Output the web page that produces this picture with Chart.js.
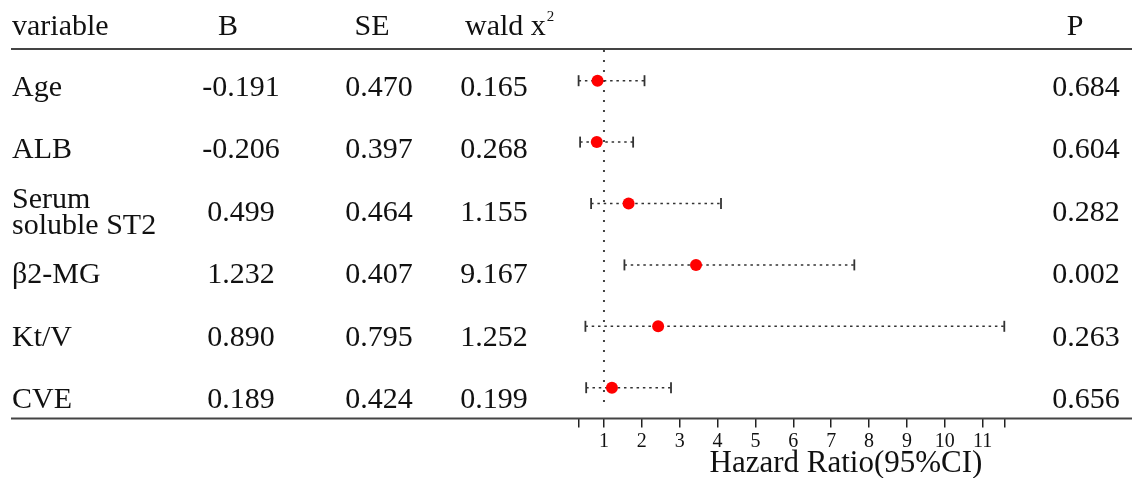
<!DOCTYPE html>
<html><head><meta charset="utf-8">
<script src="https://cdn.jsdelivr.net/npm/chart.js@4/dist/chart.umd.min.js"></script>
<style>html,body{margin:0;padding:0;background:#fff}#wrap{width:1132px;height:478px;position:relative}</style>
</head><body><div id="wrap"><canvas id="c" width="1132" height="478"></canvas></div>
<script>
const variables = ['Age', 'ALB', 'Serum\nsoluble ST2', 'β2-MG', 'Kt/V', 'CVE'];
const colB = ['-0.191', '-0.206', '0.499', '1.232', '0.890', '0.189'];
const colSE = ['0.470', '0.397', '0.464', '0.407', '0.795', '0.424'];
const colWald = ['0.165', '0.268', '1.155', '9.167', '1.252', '0.199'];
const colP = ['0.684', '0.604', '0.282', '0.002', '0.263', '0.656'];
const headers = ['variable', 'B', 'SE', 'wald x', 'P'];
const headerSup = '2';
const hr = [0.83, 0.81, 1.65, 3.43, 2.43, 1.21];
const lower = [0.33, 0.37, 0.66, 1.54, 0.51, 0.53];
const upper = [2.07, 1.77, 4.09, 7.61, 11.57, 2.77];
const xTickLabels = [1, 2, 3, 4, 5, 6, 7, 8, 9, 10, 11];
const xMin = 0.33, xMax = 11.57;
const refValue = 1;
const axisTitle = 'Hazard Ratio(95%CI)';

const SERIF = "'Liberation Serif', 'Times New Roman', serif";
const INK = '#111';

const datasets = [];
datasets.push({
  data: hr.map((v, i) => ({x: v, y: i})),
  showLine: false, pointRadius: 6, pointHoverRadius: 6,
  pointBackgroundColor: '#ff0000', pointBorderWidth: 0, order: 0, clip: false
});
variables.forEach((_, i) => {
  datasets.push({
    data: [{x: lower[i], y: i}, {x: upper[i], y: i}],
    showLine: true, borderColor: '#333', borderWidth: 1.5, borderDash: [2.5, 3.8],
    pointStyle: 'line', pointRotation: 90, pointRadius: 5.5, pointHoverRadius: 5.5,
    pointBorderColor: '#333', pointBorderWidth: 1.8, order: 1, clip: false
  });
});
datasets.push({
  data: [{x: refValue, y: -0.5}, {x: refValue, y: 5.35}],
  showLine: true, borderColor: '#444', borderWidth: 2, borderDash: [2, 8],
  pointRadius: 0, order: 2, clip: false
});

const tablePlugin = {
  id: 'table',
  afterDraw(chart) {
    const ctx = chart.ctx;
    const ys = chart.scales.y;
    const area = chart.chartArea;
    ctx.save();
    ctx.strokeStyle = '#444';
    ctx.lineWidth = 2;
    ctx.beginPath();
    ctx.moveTo(11, area.top - 1); ctx.lineTo(1132, area.top - 1);
    ctx.moveTo(11, area.bottom); ctx.lineTo(1132, area.bottom);
    ctx.stroke();

    ctx.fillStyle = INK;
    ctx.textBaseline = 'middle';
    ctx.font = '30px ' + SERIF;
    const headY = 27;
    ctx.textAlign = 'left'; ctx.fillText(headers[0], 12, headY);
    ctx.textAlign = 'center'; ctx.fillText(headers[1], 228, headY);
    ctx.fillText(headers[2], 372, headY);
    ctx.textAlign = 'left'; ctx.fillText(headers[3], 465, headY);
    const wx = 465 + ctx.measureText(headers[3]).width + 1;
    ctx.font = '15px ' + SERIF;
    ctx.fillText(headerSup, wx, headY - 10);
    ctx.font = '30px ' + SERIF;
    ctx.textAlign = 'center'; ctx.fillText(headers[4], 1075, headY);

    variables.forEach((v, i) => {
      const y = ys.getPixelForValue(i) + 7.5 + i;
      ctx.textAlign = 'left';
      const lines = v.split('\n');
      if (lines.length === 2) {
        ctx.fillText(lines[0], 12, y - 13);
        ctx.fillText(lines[1], 12, y + 13);
      } else ctx.fillText(v, 12, y);
      ctx.textAlign = 'center';
      ctx.fillText(colB[i], 241, y);
      ctx.fillText(colSE[i], 379, y);
      ctx.fillText(colWald[i], 494, y);
      ctx.fillText(colP[i], 1086, y);
    });

    ctx.font = '31px ' + SERIF;
    ctx.textAlign = 'center';
    ctx.fillText(axisTitle, 846, 464);
    ctx.restore();
  }
};

new Chart(document.getElementById('c'), {
  type: 'scatter',
  data: {datasets},
  options: {
    responsive: false, animation: false, events: [],
    layout: {padding: {left: 578.6, right: 127.7, top: 50, bottom: 0}},
    plugins: {legend: {display: false}, tooltip: {enabled: false}},
    scales: {
      x: {
        type: 'linear', min: xMin, max: xMax,
        afterBuildTicks: s => { s.ticks = [xMin, ...xTickLabels, xMax].map(v => ({value: v})); },
        afterFit: s => { s.height = 478 - 418.4; },
        ticks: {
          callback: v => xTickLabels.includes(v) ? String(v) : '',
          font: {family: SERIF, size: 20}, color: INK, padding: 2,
          maxRotation: 0, autoSkip: false
        },
        grid: {drawOnChartArea: false, drawTicks: true, tickLength: 9, color: '#222', lineWidth: 1.5},
        border: {display: false}
      },
      y: {type: 'linear', min: -0.5, max: 5.5, reverse: true, display: false}
    }
  },
  plugins: [tablePlugin]
});
</script>
</body></html>
